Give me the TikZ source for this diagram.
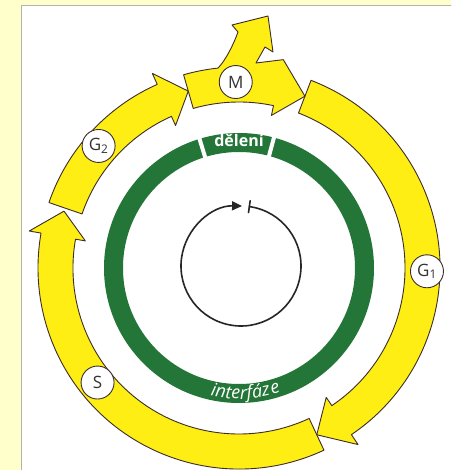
\documentclass[tikz,border=0pt]{standalone}
\usepackage{fontspec}
\setsansfont{Open Sans}
\usepackage{tikz}
\usetikzlibrary{arrows.meta,decorations.text}
\definecolor{cellyellow}{RGB}{255,238,20}
\definecolor{cellgreen}{RGB}{36,118,56}
\definecolor{pagecream}{RGB}{255,255,204}
\definecolor{bandedge}{RGB}{60,45,40}
\tikzset{
  every picture/.append style={line cap=round,line join=round},
  cell band/.style={fill=cellyellow,draw=bandedge,line width=0.9pt},
  cell phase/.style={circle,draw=bandedge,fill=white,line width=0.9pt,minimum size=33pt,inner sep=0pt,font=\sffamily\fontsize{17}{17}\selectfont,text=black!80},
  cell ring/.style={draw=cellgreen,line width=19pt,line cap=butt},
  cell gap/.style={draw=white,line width=4pt,line cap=butt},
  cell cycle/.style={line width=1.6pt,draw=black!85},
  cell word/.style={text=white,font=\sffamily\bfseries\fontsize{16}{16}\selectfont}
}
% one yellow phase arrow: start angle, arrow base angle, tip angle
\newcommand{\cellband}[3]{%
  \filldraw[cell band] (#1:201pt) arc[start angle=#1,end angle=#2,radius=201pt]
    -- (#2:213pt) -- (#3:184pt) -- (#2:156pt) -- (#2:166pt)
    arc[start angle=#2,end angle=#1,radius=166pt] -- cycle;}

\begin{document}
\begin{tikzpicture}[x=1pt,y=1pt]
\useasboundingbox (-239,-202) rectangle (212,268);
% page
\fill[pagecream] (-239,-202) rectangle (212,268);
\fill[white] (-217,-202) rectangle (212,262);
\draw[gray!60,line width=0.8pt] (-217.5,-202) -- (-217.5,262.5) -- (212,262.5);

% phases
\cellband{69}{-56}{-65}
\cellband{295}{170}{162}
\cellband{161}{114}{106}
\filldraw[cell band] (106:201pt) arc[start angle=106,end angle=96,radius=201pt]
  .. controls (-14,207) and (-6,222) .. (-1,236) -- (-7,243) -- (29,252)
  -- (34,216) -- (26,221) -- (17,205)
  -- (78:213pt) -- (69:184pt) -- (78:156pt) -- (78:166pt)
  arc[start angle=78,end angle=106,radius=166pt] -- cycle;

\node[cell phase] (m) at (91:186pt) {M};
\node[cell phase] (g1) at (-1:188pt) {G\textsubscript{1}};
\node[cell phase] (s) at (219:182pt) {S};
\node[cell phase] (g2) at (139:186pt) {G\textsubscript{2}};

% green ring
\draw[cell ring] (0,0) circle[radius=125.5pt];
\draw[cell gap] (107:114pt) -- (107:138pt);
\draw[cell gap] (75:114pt) -- (75:138pt);
\node[cell word,anchor=base] (deleni) at (0,121) {dělení};
\path[decorate,decoration={text along path,text align=center,text color=white,
  text={|\sffamily\itshape\fontsize{18}{18}\selectfont|interfáz{\kern1.5pt}e}}]
  (-114:131pt) arc[start angle=-114,end angle=-60,radius=131pt];

% inner cycle
\draw[cell cycle,shift={(2,2)},-{Triangle[length=10pt,width=9pt]}]
  (82:60pt) arc[start angle=82,end angle=-271,radius=60pt];
\draw[cell cycle,shift={(2,2)}] (82:54pt) -- (82:66pt);
\end{tikzpicture}
\end{document}
